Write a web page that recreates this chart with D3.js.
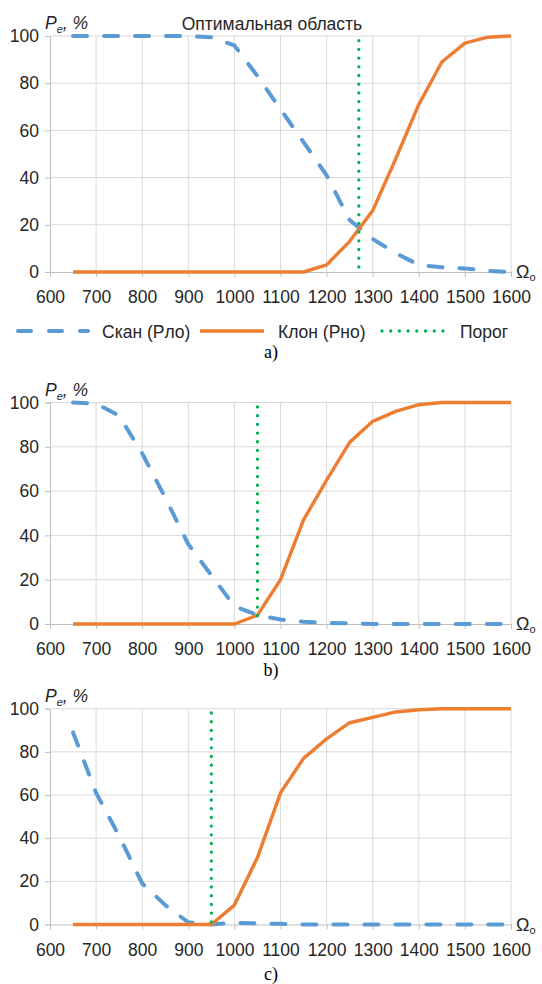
<!DOCTYPE html>
<html><head><meta charset="utf-8">
<script src="https://cdn.jsdelivr.net/npm/d3@7"></script>
<style>
body{margin:0;background:#fff;}
svg{display:block;}
</style></head>
<body>
<svg id="chart" width="542" height="984"></svg>
<script>
// ---- data ----
const omega = [650,700,750,800,850,900,950,1000,1050,1100,1150,1200,1250,1300,1350,1400,1450,1500,1550,1600];
const scanA = [100,100,100,100,100,100,99.5,96,83,69,55,41,22,14,8,3,2,1.5,0.5,0];
const clonA = [0,0,0,0,0,0,0,0,0,0,0,3,13,26,48,71,89,97,99.5,100];
const scanB = [100,99.5,94,77,57,36,22,8,4,2,1,0.5,0.3,0,0,0,0,0,0,0];
const clonB = [0,0,0,0,0,0,0,0,4,20,47,65,82,91.5,96,99,100,100,100,100];
const scanC = [89,61,41,19,9,1,0,0.8,0.5,0.3,0,0,0,0,0,0,0,0,0,0];
const clonC = [0,0,0,0,0,0,0,9,31,61,77,86,93.5,96,98.5,99.5,100,100,100,100];
const thresholds = [1270, 1050, 950];
const xTicks = [600,700,800,900,1000,1100,1200,1300,1400,1500,1600];
const yTicks = [0,20,40,60,80,100];
const panelLabels = ["a)", "b)", "c)"];
const seriesNames = ["Скан (Рло)", "Клон (Рно)", "Порог"];
const topTitle = "Оптимальная область";

const svg = d3.select("#chart");
const BLUE = "#5b9bd5", ORANGE = "#ed7d31", GREEN = "#00b050", GRID = "#d9d9d9", TXT = "#262626";
const FONT = "'Liberation Sans Narrow','Arial Narrow','Liberation Sans',Arial,sans-serif";
const FS = "17.5px";

const panels = [
  {scan: scanA, clon: clonA, thr: thresholds[0], top: 36, bot: 272, label: panelLabels[0], labelY: 358, legend: true},
  {scan: scanB, clon: clonB, thr: thresholds[1], top: 402.5, bot: 624, label: panelLabels[1], labelY: 676},
  {scan: scanC, clon: clonC, thr: thresholds[2], top: 708.7, bot: 924.5, label: panelLabels[2], labelY: 980}
];

const x = d3.scaleLinear().domain([600,1600]).range([50,511]);

panels.forEach((p, i) => {
  const y = d3.scaleLinear().domain([0,100]).range([p.bot, p.top]);
  const g = svg.append("g");

  // grid
  g.append("g").selectAll("line").data(xTicks.slice(1)).join("line")
    .attr("x1", d => x(d)).attr("x2", d => x(d)).attr("y1", y(100)).attr("y2", y(0))
    .attr("stroke", GRID).attr("stroke-width", 1);
  g.append("g").selectAll("line").data(yTicks.slice(1)).join("line")
    .attr("x1", x(600)).attr("x2", x(1600)).attr("y1", d => y(d)).attr("y2", d => y(d))
    .attr("stroke", GRID).attr("stroke-width", 1);

  // axes
  const xAxis = d3.axisBottom(x).tickValues(xTicks).tickSize(5).tickPadding(14).tickFormat(d3.format("d"));
  const gx = g.append("g").attr("transform", `translate(0,${y(0)})`).call(xAxis);
  gx.select(".domain").attr("stroke", "#bfbfbf");
  gx.selectAll(".tick line").attr("stroke", "#bfbfbf");
  gx.selectAll("text").attr("fill", TXT).style("font-family", FONT).style("font-size", FS);

  const yAxis = d3.axisLeft(y).tickValues(yTicks).tickSize(5).tickPadding(6);
  const gy = g.append("g").attr("transform", `translate(${x(600)},0)`).call(yAxis);
  gy.select(".domain").attr("stroke", "#bfbfbf");
  gy.selectAll(".tick line").attr("stroke", "#bfbfbf");
  gy.selectAll("text").attr("fill", TXT).style("font-family", FONT).style("font-size", FS);

  // lines
  const line = d3.line().x((d, k) => x(omega[k])).y(d => y(d));
  g.append("path").datum(p.scan).attr("d", line).attr("fill", "none")
    .attr("stroke", BLUE).attr("stroke-width", 4).attr("stroke-linecap", "round")
    .attr("stroke-dasharray", "14,17");
  g.append("path").datum(p.clon).attr("d", line).attr("fill", "none")
    .attr("stroke", ORANGE).attr("stroke-width", 3.4).attr("stroke-linejoin", "round");
  g.append("line").attr("x1", x(p.thr)).attr("x2", x(p.thr)).attr("y1", y(98)).attr("y2", y(0))
    .attr("stroke", GREEN).attr("stroke-width", 3.3).attr("stroke-linecap", "round")
    .attr("stroke-dasharray", "0,8.7");

  // y label Pe, %
  const t = g.append("text").attr("x", 45).attr("y", p.top - 7)
    .attr("fill", TXT).style("font-family", FONT).style("font-size", FS).style("font-style", "italic");
  t.append("tspan").text("P");
  t.append("tspan").attr("dy", 4).style("font-size", "11px").text("e");
  t.append("tspan").attr("dy", -4).text(", %");

  // Omega label
  const o = g.append("text").attr("x", 516).attr("y", p.bot + 6)
    .attr("fill", TXT).style("font-family", FONT).style("font-size", "18px");
  o.append("tspan").text("Ω");
  o.append("tspan").attr("dy", 3).style("font-size", "11px").text("o");

  // panel label
  g.append("text").attr("x", 271).attr("y", p.labelY).attr("text-anchor", "middle")
    .attr("fill", "#000").style("font-family", "'Liberation Serif','DejaVu Serif',serif").style("font-size", "18px")
    .text(p.label);

  if (p.legend) {
    const ly = 331;
    const items = [
      {x1: 18, x2: 88, tx: 102, color: BLUE, dash: "13,18", w: 4, cap: "round"},
      {x1: 200, x2: 264, tx: 278, color: ORANGE, dash: null, w: 3.6, cap: "butt"},
      {x1: 382, x2: 443, tx: 460, color: GREEN, dash: "0,8.7", w: 3.3, cap: "round"}
    ];
    items.forEach((it, k) => {
      g.append("line").attr("x1", it.x1).attr("x2", it.x2).attr("y1", ly).attr("y2", ly)
        .attr("stroke", it.color).attr("stroke-width", it.w).attr("stroke-linecap", it.cap)
        .attr("stroke-dasharray", it.dash);
      g.append("text").attr("x", it.tx).attr("y", ly + 6.5).attr("fill", TXT)
        .style("font-family", FONT).style("font-size", FS).text(seriesNames[k]);
    });
    g.append("text").attr("x", 272).attr("y", 29.5).attr("text-anchor", "middle").attr("fill", TXT)
      .style("font-family", FONT).style("font-size", FS).text(topTitle);
  }
});
</script>
</body></html>
